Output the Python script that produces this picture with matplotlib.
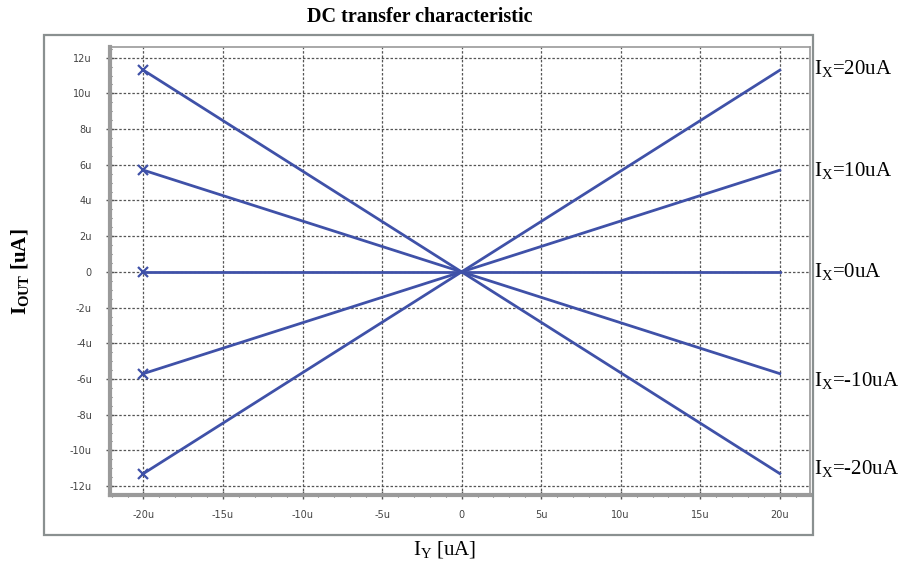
import matplotlib
matplotlib.use("Agg")
from matplotlib import pyplot as plt
from matplotlib.patches import Rectangle
from matplotlib.ticker import MultipleLocator, FuncFormatter

# sweep of I_Y [uA] and the output current I_OUT [uA] for each I_X
iy = [-20, -10, 0, 10, 20]
iout_p20 = [11.3, 5.65, 0.0, -5.65, -11.3]
iout_p10 = [5.7, 2.85, 0.0, -2.85, -5.7]
iout_0 = [0.0, 0.0, 0.0, 0.0, 0.0]
iout_m10 = [-5.7, -2.85, 0.0, 2.85, 5.7]
iout_m20 = [-11.3, -5.65, 0.0, 5.65, 11.3]

# labels on the right, placed near the line end value (I_Y = 20u)
right_labels = [r"I$_\mathrm{X}$=20uA", r"I$_\mathrm{X}$=10uA", r"I$_\mathrm{X}$=0uA",
                r"I$_\mathrm{X}$=-10uA", r"I$_\mathrm{X}$=-20uA"]
label_y = [11.4, 5.7, 0.0, -6.1, -11.0]

LINE = "#3f51a8"
SERIF = "Liberation Serif"

plt.rcParams["mathtext.fontset"] = "custom"
plt.rcParams["mathtext.rm"] = SERIF
plt.rcParams["mathtext.it"] = SERIF
plt.rcParams["mathtext.bf"] = SERIF + ":bold"

fig = plt.figure(figsize=(9.05, 5.71), dpi=100)

# outer window frame
fig.patches.append(Rectangle((44 / 905, 1 - 535 / 571), 769 / 905, 500 / 571,
                             transform=fig.transFigure, fill=False,
                             edgecolor="#8a9090", lw=1.6))

ax = fig.add_axes([110 / 905, 1 - 495 / 571, 700 / 905, 448 / 571])

series = [iout_m20, iout_m10, iout_0, iout_p10, iout_p20]
for s in series:
    ax.plot(iy, s, color=LINE, lw=2.0, marker="x", markevery=[0],
            markersize=7, mew=1.6)

ax.set_xlim(-22.1, 21.9)
ax.set_ylim(-12.5, 12.6)
ax.xaxis.set_major_locator(MultipleLocator(5))
ax.xaxis.set_minor_locator(MultipleLocator(1))
ax.yaxis.set_major_locator(MultipleLocator(2))
ax.yaxis.set_minor_locator(MultipleLocator(0.5))
fmt = FuncFormatter(lambda v, p: "0" if abs(v) < 1e-9 else f"{v:g}u")
ax.xaxis.set_major_formatter(fmt)
ax.yaxis.set_major_formatter(fmt)

ax.grid(True, which="major", color="#555555", ls=(0, (2, 1.5)), lw=0.9)
for side in ["top", "right"]:
    ax.spines[side].set_color("#9a9a9a")
    ax.spines[side].set_linewidth(1.2)
for side in ["left", "bottom"]:
    ax.spines[side].set_color("#9a9a9a")
    ax.spines[side].set_linewidth(3)
ax.tick_params(which="both", direction="inout", color="#555555",
               labelsize=7, labelcolor="#444444")
ax.tick_params(which="major", length=6, width=1)
ax.tick_params(which="minor", length=3, width=0.8)
ax.tick_params(axis="x", pad=8)
ax.tick_params(axis="y", pad=10)

for txt, yv in zip(right_labels, label_y):
    ax.text(1.005, yv, txt, transform=ax.get_yaxis_transform(),
            fontsize=15, family=SERIF, va="center", ha="left")

fig.text(420 / 905, 1 - 17 / 571, "DC transfer characteristic",
         fontsize=14.5, family=SERIF, weight="bold", ha="center", va="center")
fig.text(445 / 905, 1 - 549 / 571, r"I$_\mathrm{Y}$ [uA]", fontsize=15,
         family=SERIF, ha="center", va="center")
fig.text(20 / 905, 1 - 272 / 571, r"I$_\mathbf{OUT}$ [uA]", fontsize=15,
         family=SERIF, weight="bold", ha="center", va="center", rotation=90)

fig.savefig("out.png", dpi=100)
